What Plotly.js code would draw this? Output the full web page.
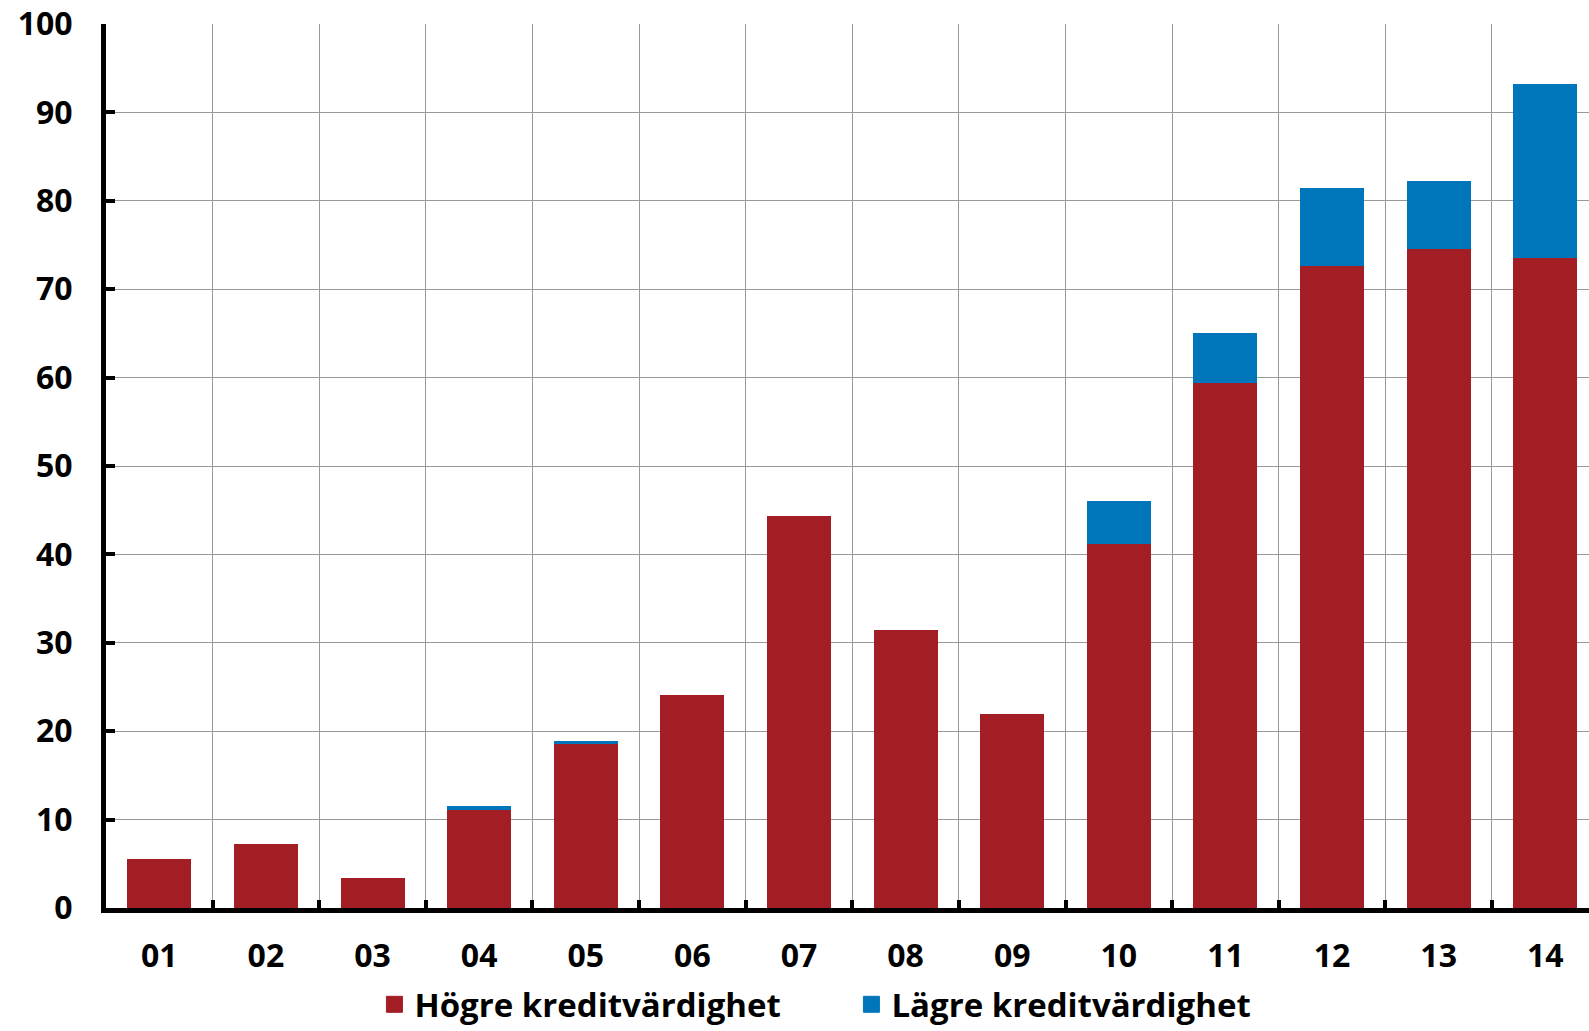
<!DOCTYPE html>
<html>
<head>
<meta charset="utf-8">
<script src="https://cdn.plot.ly/plotly-3.0.1.min.js"></script>
<style>html,body{margin:0;padding:0;background:#fff;}#chart{width:1589px;height:1031px;}</style>
</head>
<body>
<div id="chart"></div>
<script>
const categories = ["01","02","03","04","05","06","07","08","09","10","11","12","13","14"];
const hogre = [5.6, 7.2, 3.4, 11.1, 18.6, 24.1, 44.4, 31.5, 21.9, 41.2, 59.4, 72.6, 74.5, 73.5];
const lagre = [0, 0, 0, 0.4, 0.25, 0, 0, 0, 0, 4.8, 5.7, 8.9, 7.7, 19.7];
const seriesNames = ["Högre kreditvärdighet", "Lägre kreditvärdighet"];
const seriesColors = ['#A31D25', '#0076BA'];
const yTicks = [0,10,20,30,40,50,60,70,80,90,100];

const fontFam = '"Open Sans", "Noto Sans", sans-serif';

const traces = [
  {type:'bar', x:categories, y:hogre, name:seriesNames[0], showlegend:false,
   marker:{color:seriesColors[0], line:{width:0}}, width:0.6},
  {type:'bar', x:categories, y:lagre, name:seriesNames[1], showlegend:false,
   marker:{color:seriesColors[1], line:{width:0}}, width:0.6},
  // legend-only entries (larger square swatches)
  {type:'scatter', mode:'markers', x:[categories[0]], y:[null], name:seriesNames[0],
   marker:{symbol:'square', size:16, color:seriesColors[0], line:{width:1, color:seriesColors[0]}}},
  {type:'scatter', mode:'markers', x:[categories[0]], y:[null], name:seriesNames[1],
   marker:{symbol:'square', size:16, color:seriesColors[1], line:{width:1, color:seriesColors[1]}}}
];

const layout = {
  width:1589, height:1031,
  barmode:'stack',
  margin:{l:106, r:0, t:24, b:123},
  paper_bgcolor:'#fff', plot_bgcolor:'#fff',
  font:{family:fontFam, color:'#000', size:32},
  showlegend:true,
  legend:{orientation:'h', xref:'paper', yref:'container', x:0.181, y:0.053, xanchor:'left', yanchor:'top',
          font:{family:fontFam, size:33, color:'#000', weight:700}, traceorder:'normal',
          itemwidth:30, entrywidth:432, bgcolor:'rgba(0,0,0,0)'},
  xaxis:{type:'category', range:[-0.5, 13.41], tickson:'boundaries',
         showgrid:true, gridcolor:'#999', gridwidth:1,
         showline:true, linecolor:'#000', linewidth:5,
         ticks:'inside', ticklen:8, tickwidth:4, tickcolor:'#000',
         tickfont:{family:fontFam, size:32, color:'#000', weight:700},
         ticklabelstandoff:16, fixedrange:true, zeroline:false},
  yaxis:{range:[0,100], tickvals:yTicks, ticktext:yTicks.map(String),
         showgrid:true, gridcolor:'#999', gridwidth:1,
         showline:true, linecolor:'#000', linewidth:5,
         ticks:'inside', ticklen:9, tickwidth:4, tickcolor:'#000',
         tickfont:{family:fontFam, size:32, color:'#000', weight:700},
         ticklabelstandoff:22, zeroline:false, fixedrange:true}
};

Plotly.newPlot('chart', traces, layout, {displayModeBar:false, staticPlot:true});
</script>
</body>
</html>
